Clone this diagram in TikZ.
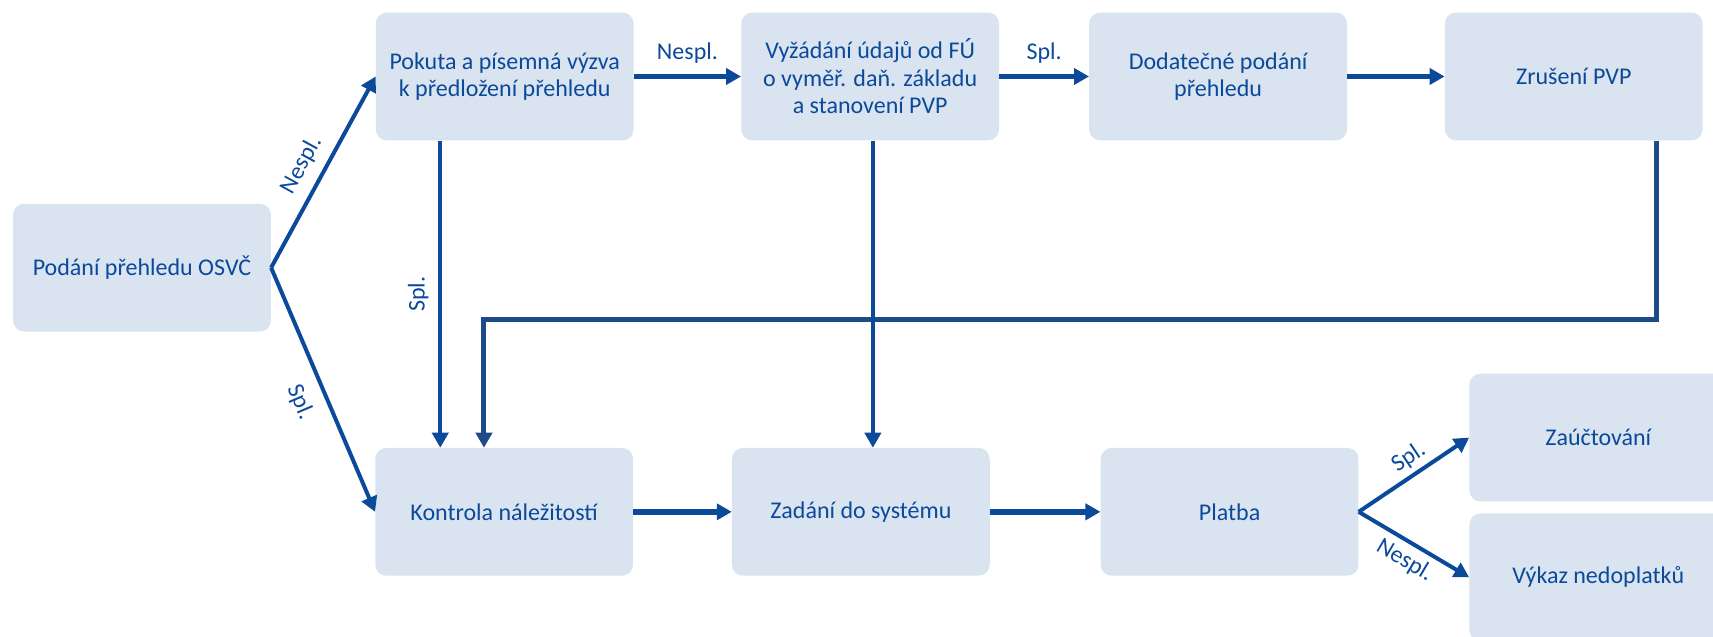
\documentclass[tikz,border=0pt]{standalone}
\usepackage{fontspec}
\setmainfont{Carlito}
\usetikzlibrary{arrows.meta}
\definecolor{boxfill}{RGB}{218,227,240}
\definecolor{ink}{RGB}{11,74,154}
\definecolor{loopink}{RGB}{30,74,135}
\begin{document}
\begin{tikzpicture}[x=1.0925pt,y=-1.0925pt,
  font=\fontsize{24}{27.5}\selectfont,
  box/.style={fill=boxfill, rounded corners=11pt, minimum width=257.8pt, minimum height=127.8pt, align=center, text=ink, inner sep=0pt},
  lbl/.style={text=ink, inner sep=1pt, font=\fontsize{24}{27.5}\selectfont},
  harrow/.style={draw=ink, line width=5.5pt, -{Triangle[length=15pt,width=16pt]}},
  darrow/.style={draw=ink, line width=4pt, -{Triangle[length=15pt,width=16pt]}},
  varrow/.style={draw=ink, line width=3.8pt, -{Triangle[length=15pt,width=16pt]}},
  looparrow/.style={draw=loopink, line width=5pt, -{Triangle[length=15pt,width=16pt]}},
]
\useasboundingbox (0,0) rectangle (1568,583);
\clip (0,0) rectangle (1568,583);

\node[box] (pod) at (130,245) {Podání přehledu OSVČ};
\node[box] (pok) at (462,70) {Pokuta a písemná výzva\\k předložení přehledu};
\node[box] (vyz) at (796.5,70) {Vyžádání údajů od FÚ\\o vyměř. daň. základu\\a stanovení PVP};
\node[box] (dod) at (1115,70) {Dodatečné podání\\přehledu};
\node[box] (zru) at (1440.5,70) {Zrušení PVP};
\node[box] (kon) at (461.5,468.5) {Kontrola náležitostí};
\node[box] (zad) at (788,468.5) {Zadání do systému};
\node[box] (pla) at (1125.5,468.5) {Platba};
\node[box] (zau) at (1463,400.5) {Zaúčtování};
\node[box] (vyk) at (1463,528.5) {Výkaz nedoplatků};

% diagonal branches from the first box
\draw[darrow] (pod.east) -- (pok.west) node[lbl, pos=0.48, sloped, above=9pt] {Nespl.};
\draw[darrow] (pod.east) -- (kon.west) node[lbl, pos=0.51, sloped, below=13pt] {Spl.};

% top row
\draw[harrow] (pok.east) -- (vyz.west) node[lbl, midway, above=9pt] {Nespl.};
\draw[harrow] (vyz.east) -- (dod.west) node[lbl, midway, above=9pt] {Spl.};
\draw[harrow] (dod.east) -- (zru.west);

% loop from Zrušení PVP back to Kontrola
\coordinate (lr) at (1516.5,292);
\coordinate (ll) at (443,292);
\draw[looparrow] ([xshift=1.0925*76pt]zru.south) -- (lr) -- (ll) -- (ll |- kon.north);

% vertical from Pokuta to Kontrola
\draw[varrow, {Triangle[length=15pt,width=16pt]}-] ([xshift=-1.0925*58.5pt]kon.north) -- ([xshift=-1.0925*58.5pt]kon.north |- pok.south)
  node[lbl, pos=0.5, sloped, above=9pt] {Spl.};

% vertical from Vyžádání to Zadání
\draw[varrow] ([xshift=1.0925*2.5pt]vyz.south) -- ([xshift=1.0925*2.5pt]vyz.south |- zad.north);

% bottom row
\draw[harrow] (kon.east) -- (zad.west);
\draw[harrow] (zad.east) -- (pla.west);

% branches from Platba
\draw[darrow] (pla.east) -- (zau.west) node[lbl, pos=0.54, sloped, above=4pt] {Spl.};
\draw[darrow] (pla.east) -- (vyk.west) node[lbl, pos=0.5, sloped, below=5pt] {Nespl.};
\end{tikzpicture}
\end{document}
